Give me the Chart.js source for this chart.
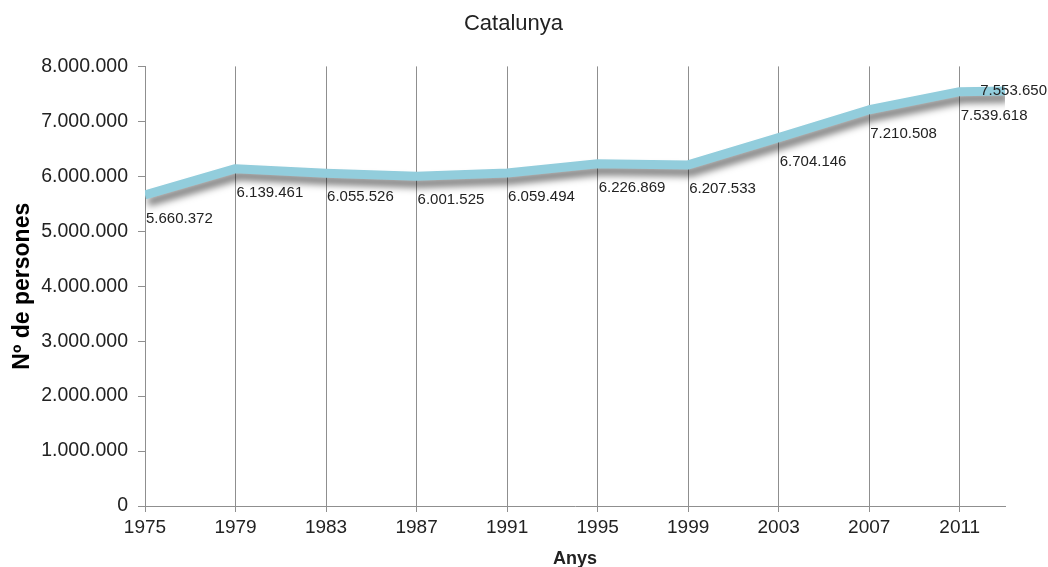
<!DOCTYPE html>
<html>
<head>
<meta charset="utf-8">
<script src="https://cdn.jsdelivr.net/npm/chart.js@4.4.1/dist/chart.umd.min.js"></script>
<style>
  html, body { margin: 0; padding: 0; background: #fff; }
  #wrap { width: 1048px; height: 567px; }
</style>
</head>
<body>
<div id="wrap"><canvas id="popChart"></canvas></div>
<script>
// dades: població de Catalunya
const years = [1975, 1979, 1983, 1987, 1991, 1995, 1999, 2003, 2007, 2011, 2013];
const population = [5660372, 6139461, 6055526, 6001525, 6059494, 6226869, 6207533, 6704146, 7210508, 7539618, 7553650];
const yearTicks = [1975, 1979, 1983, 1987, 1991, 1995, 1999, 2003, 2007, 2011];
const yMin = 0;
const yMax = 8000000;
const yStep = 1000000;

const FONT = '"Liberation Sans", Arial, sans-serif';
const textColor = '#222';
const gridColor = '#8f8f8f';

function fmt(n) {
    return String(n).replace(/\B(?=(\d{3})+(?!\d))/g, '.');
}

// ombra sota la línia
const shadowPlugin = {
    id: 'lineShadow',
    beforeDatasetDraw(chart) {
        const ctx = chart.ctx;
        ctx.save();
        ctx.shadowColor = 'rgba(0, 0, 0, 0.5)';
        ctx.shadowBlur = 7;
        ctx.shadowOffsetX = 3;
        ctx.shadowOffsetY = 7;
    },
    afterDatasetDraw(chart) {
        chart.ctx.restore();
    }
};

// etiquetes de valor
const valueLabels = {
    id: 'valueLabels',
    afterDatasetsDraw(chart) {
        const ctx = chart.ctx;
        const meta = chart.getDatasetMeta(0);
        ctx.save();
        ctx.font = '15px ' + FONT;
        ctx.fillStyle = textColor;
        ctx.textAlign = 'left';
        ctx.textBaseline = 'middle';
        const last = meta.data.length - 1;
        meta.data.forEach((pt, i) => {
            const txt = fmt(population[i]);
            const w = ctx.measureText(txt).width;
            let x, y;
            if (i === last) {
                x = Math.min(pt.x + 5, chart.width - w - 1);
                y = pt.y;
            } else {
                x = pt.x + 1;
                y = pt.y + 24;
            }
            ctx.fillText(txt, x, y);
        });
        ctx.restore();
    }
};

const ctx = document.getElementById('popChart').getContext('2d');
new Chart(ctx, {
    type: 'line',
    data: {
        datasets: [{
            label: 'Catalunya',
            data: years.map((y, i) => ({ x: y, y: population[i] })),
            borderColor: '#92cddc',
            borderWidth: 9,
            borderJoinStyle: 'round',
            pointRadius: 0,
            pointHoverRadius: 0,
            tension: 0,
            fill: false
        }]
    },
    options: {
        responsive: true,
        maintainAspectRatio: false,
        animation: false,
        layout: {
            padding: { left: 22, right: 43, top: 0, bottom: 0 }
        },
        plugins: {
            legend: { display: false },
            tooltip: { enabled: false },
            title: {
                display: true,
                text: 'Catalunya',
                color: textColor,
                font: { family: FONT, size: 22, weight: 'normal' },
                padding: { top: 11, bottom: 29 }
            }
        },
        scales: {
            x: {
                type: 'linear',
                min: 1975,
                max: 2013,
                afterBuildTicks: scale => {
                    scale.ticks = yearTicks.map(v => ({ value: v }));
                },
                afterFit: scale => { scale.height = 61; },
                ticks: {
                    color: textColor,
                    font: { family: FONT, size: 19 },
                    padding: 4,
                    maxRotation: 0,
                    autoSkip: false,
                    callback: v => String(v)
                },
                grid: {
                    color: gridColor,
                    lineWidth: 1,
                    drawOnChartArea: true,
                    drawTicks: true,
                    tickLength: 6
                },
                border: { display: true, color: gridColor, width: 1 },
                title: {
                    display: true,
                    text: 'Anys',
                    color: textColor,
                    font: { family: FONT, size: 18, weight: 'bold', lineHeight: 1 },
                    padding: { top: 0, bottom: -1 }
                }
            },
            y: {
                min: yMin,
                max: yMax,
                afterFit: scale => { scale.width = 123; },
                ticks: {
                    stepSize: yStep,
                    color: textColor,
                    font: { family: FONT, size: 19.5 },
                    padding: 10,
                    callback: v => fmt(v)
                },
                grid: {
                    color: gridColor,
                    drawOnChartArea: false,
                    drawTicks: true,
                    tickLength: 7
                },
                border: { display: true, color: gridColor, width: 1 },
                title: {
                    display: true,
                    text: 'Nº de persones',
                    color: '#000',
                    font: { family: FONT, size: 23, weight: 'bold', lineHeight: 1 },
                    padding: { top: -11, bottom: 0 }
                }
            }
        }
    },
    plugins: [shadowPlugin, valueLabels]
});
</script>
</body>
</html>
